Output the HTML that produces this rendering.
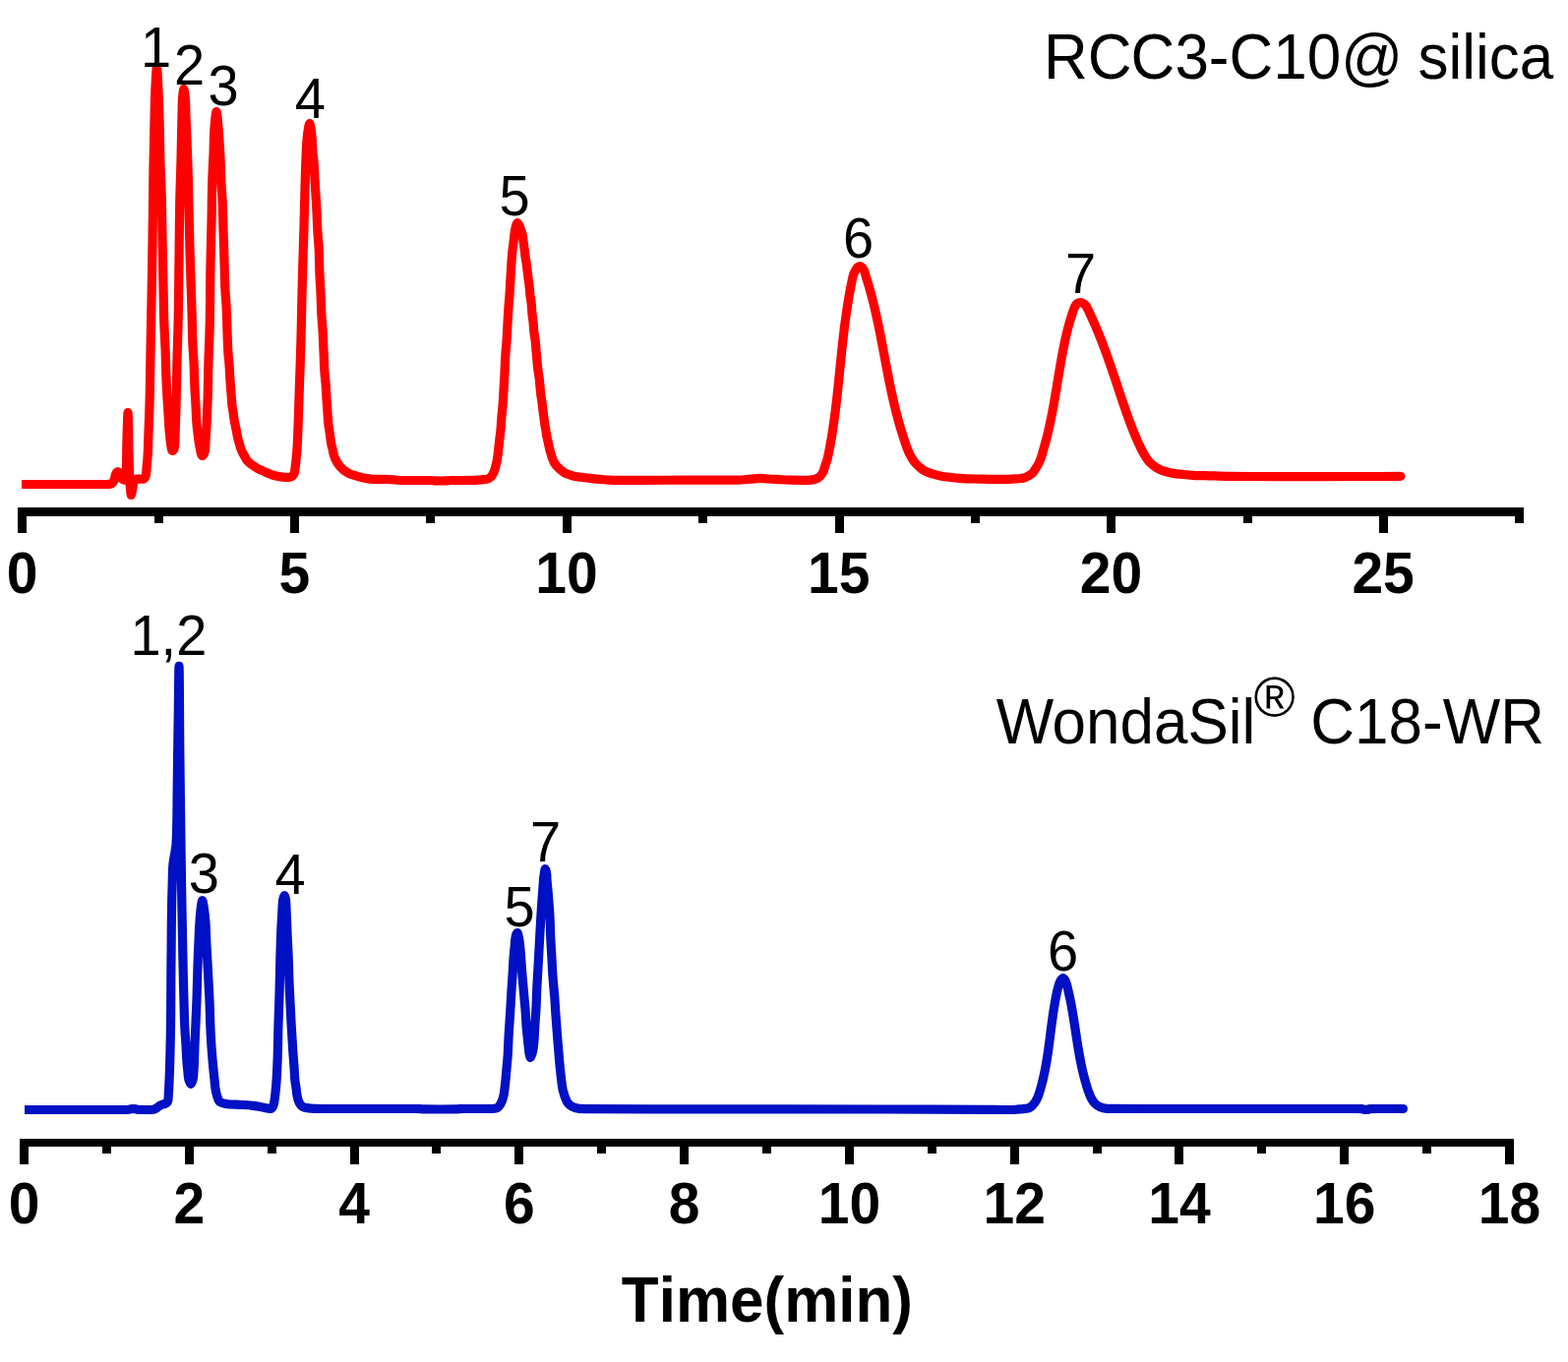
<!DOCTYPE html>
<html lang="en"><head><meta charset="utf-8"><title>Chromatograms</title>
<style>html,body{margin:0;padding:0;background:#fff;}body{width:1594px;height:1385px;overflow:hidden;}svg{display:block;}text{font-family:"Liberation Sans",Arial,Helvetica,sans-serif;fill:#000;font-kerning:none;}.c{fill:none;stroke-width:9.2;stroke-linejoin:round;stroke-linecap:butt;}</style></head><body>
<svg xmlns="http://www.w3.org/2000/svg" width="1594" height="1385" viewBox="0 0 1594 1385">
<rect width="1594" height="1385" fill="#fff"/>
<path class="c" stroke="#ff0000" d="M22 492.5C34.67 492.5 47.33 492.5 60 492.5C73.33 492.5 86.67 492.5 100 492.5C102.67 492.5 105.33 492.5 108 492.5C109 492.5 110.01 492.5 111 492.4C111.84 492.31 112.79 492.22 113.5 491.8C114.18 491.4 114.74 490.67 115.2 490C115.7 489.26 116 488.36 116.3 487.5C116.75 486.22 116.77 484.79 117.2 483.5C117.53 482.51 117.72 481.35 118.4 480.6C118.8 480.16 119.41 479.5 119.9 479.5C120.44 479.5 121.06 480.3 121.5 480.8C122.35 481.77 122.44 483.29 123 484.5C123.46 485.49 123.69 486.77 124.5 487.4C125.03 487.81 125.84 488.2 126.5 488.2C127.01 488.2 127.89 487.79 128 487.5C128.5 486.18 128.46 482.5 128.5 480C128.67 468.69 128.7 457.33 129 446C129.18 439 129.35 431.99 129.7 425C129.79 423.17 129.9 419.5 130 419.5C130.1 419.5 130.21 423.17 130.3 425C130.91 437.32 130.65 449.67 131 462C131.22 469.67 131.4 477.34 131.8 485C132.02 489.34 132.08 493.69 132.6 498C132.82 499.84 133.04 503.5 133.4 503.5C133.63 503.5 133.96 501.17 134.2 500C134.47 498.67 134.66 497.33 134.9 496C135.2 494.33 135.3 492.61 135.8 491C136.12 489.98 136.24 488.64 137 488C137.51 487.57 138.32 487.2 139 487.2C140.27 487.2 141.67 487.2 143 487.2C143.83 487.2 144.77 487.2 145.5 487.2C146.51 487.2 147.46 485.62 147.9 484.7C148.98 482.42 148.77 479.04 149 476.2C149.28 472.67 149.72 469.14 150 465.6C150.66 457.09 150.68 448.53 151 440C151.35 430.63 151.72 421.27 152 411.9C152.53 394.21 152.67 376.5 153 358.8C153.33 341.2 153.68 323.6 154 306C154.35 286.63 154.7 267.27 155 247.9C155.4 221.93 155.54 195.96 156 170C156.28 154 156.59 138 157 122C157.29 110.7 157.37 99.38 158 88.1C158.37 81.56 158.96 68.5 159.4 68.5C159.97 68.5 160.57 85.36 161 93.8C161.46 102.86 161.72 111.93 162 121C162.48 136.4 162.48 151.81 163 167.2C163.28 175.47 163.72 183.73 164 192C164.56 208.69 164.66 225.4 165 242.1C165.33 258.03 165.65 273.97 166 289.9C166.32 304.4 166.4 318.91 167 333.4C167.28 340.14 167.71 346.86 168 353.6C168.45 364.26 168.53 374.94 169 385.6C169.28 392.07 169.62 398.54 170 405C170.3 410.1 170.68 415.2 171 420.3C171.35 425.77 171.53 431.24 172 436.7C172.3 440.14 172.63 443.58 173.05 447C173.36 449.54 173.52 452.11 174.1 454.6C174.4 455.91 174.44 458.5 175.2 458.5C175.64 458.5 176.71 457.47 176.9 456.9C177.99 453.69 177.88 448.17 178 443.8C178.27 433.72 178.71 423.6 179 413.5C179.45 397.64 179.57 381.76 180 365.9C180.29 355.07 180.72 344.23 181 333.4C181.58 310.61 181.67 287.8 182 265C182.34 241.6 182.37 218.19 183 194.8C183.28 184.5 183.71 174.2 184 163.9C184.43 148.54 184.53 133.16 185 117.8C185.23 110.2 185.03 102.51 186 95C186.19 93.5 186.53 90.5 186.8 90.5C187.19 90.5 187.71 94.83 188 97C188.96 104.31 188.72 111.8 189 119.2C189.29 126.87 189.69 134.53 190 142.2C190.37 151.47 190.71 160.73 191 170C191.43 183.63 191.67 197.27 192 210.9C192.34 225.23 192.6 239.57 193 253.9C193.3 264.57 193.65 275.23 194 285.9C194.32 295.77 194.69 305.63 195 315.5C195.37 327.6 195.37 339.71 196 351.8C196.28 357.14 196.72 362.46 197 367.8C197.49 377.03 197.53 386.27 198 395.5C198.28 401.1 198.68 406.7 199 412.3C199.35 418.53 199.45 424.78 200 431C200.28 434.17 200.62 437.34 201 440.5C201.32 443.17 201.64 445.84 202.05 448.5C202.36 450.54 202.65 452.59 203.1 454.6C203.77 457.62 204.39 463.5 205.75 463.5C206.38 463.5 207.56 461.09 207.95 459.8C208.98 456.41 208.79 452.27 209 448.5C209.3 443.01 209.71 437.5 210 432C210.41 424.27 210.72 416.54 211 408.8C211.52 394.51 211.55 380.2 212 365.9C212.29 356.8 212.72 347.7 213 338.6C213.71 315.08 213.52 291.53 214 268C214.28 254.27 214.69 240.53 215 226.8C215.37 210.2 215.32 193.59 216 177C216.28 170.26 216.7 163.53 217 156.8C217.4 147.87 217.21 138.9 218 130C218.49 124.49 219.33 113.5 220 113.5C220.67 113.5 221.48 124.49 222 130C222.43 134.52 222.7 139.06 223 143.6C223.39 149.4 223.71 155.2 224 161C224.44 169.99 224.47 179.01 225 188C225.28 192.7 225.72 197.4 226 202.1C226.62 212.69 226.66 223.3 227 233.9C227.33 244.27 227.67 254.63 228 265C228.33 275.3 228.41 285.61 229 295.9C229.28 300.74 229.72 305.56 230 310.4C230.51 319.16 230.64 327.93 231 336.7C231.31 344.4 231.41 352.12 232 359.8C232.28 363.4 232.71 367 233 370.6C233.45 376.22 233.61 381.87 234 387.5C234.33 392.14 234.72 396.77 235.1 401.4C235.44 405.6 235.52 409.84 236.15 414C236.4 415.67 236.78 417.33 237.05 419C237.48 421.65 237.64 424.35 238.1 427C238.39 428.67 238.77 430.33 239.1 432C239.43 433.67 239.78 435.33 240.1 437C240.42 438.66 240.67 440.34 241 442C241.33 443.67 241.67 445.35 242.1 447C242.54 448.68 243.12 450.33 243.6 452C243.98 453.33 244.25 454.7 244.7 456C245.43 458.15 246.49 460.19 247.55 462.2C248.09 463.21 248.68 464.2 249.25 465.2C249.81 466.17 250.3 467.2 250.95 468.1C252.36 470.03 254.47 471.46 256.4 472.9C258.05 474.13 259.8 475.26 261.6 476.25C263.46 477.27 265.47 478.01 267.4 478.9C269.1 479.69 270.77 480.57 272.5 481.3C274.43 482.12 276.38 482.94 278.4 483.5C280.23 484.01 282.12 484.31 284 484.6C286.02 484.92 288.06 485.18 290.1 485.3C291.4 485.38 292.74 485.4 294 485.4C294.85 485.4 295.77 485.03 296.5 484.6C297.5 484.01 298.32 482.91 298.9 481.9C299.87 480.23 299.69 477.97 300 476C300.44 473.18 300.7 470.34 301 467.5C301.39 463.81 301.72 460.1 302 456.4C302.54 449.21 302.71 442 303 434.8C303.41 424.87 303.67 414.93 304 405C304.33 395.1 304.67 385.2 305 375.3C305.34 365.17 305.71 355.03 306 344.9C306.44 329.6 306.62 314.3 307 299C307.3 287 307.65 275 308 263C308.32 252.3 308.69 241.6 309 230.9C309.37 217.9 309.62 204.9 310 191.9C310.3 181.7 310.53 171.49 311 161.3C311.28 155.16 311.46 149.02 312 142.9C312.28 139.76 312.47 136.6 313 133.5C313.46 130.81 314.18 125.5 314.8 125.5C315.19 125.5 315.67 128.82 316 130.5C316.5 133.04 316.72 135.63 317 138.2C317.61 143.84 317.47 149.55 318 155.2C318.28 158.17 318.72 161.13 319 164.1C319.58 170.35 319.62 176.64 320 182.9C320.3 187.94 320.68 192.97 321 198C321.35 203.63 321.7 209.26 322 214.9C322.39 222.33 322.51 229.78 323 237.2C323.28 241.5 323.72 245.8 324 250.1C324.65 260.22 324.51 270.37 325 280.5C325.28 286.3 325.71 292.1 326 297.9C326.41 306.03 326.48 314.18 327 322.3C327.28 326.7 327.72 331.1 328 335.5C328.46 342.69 328.67 349.9 329 357.1C329.34 364.43 329.42 371.78 330 379.1C330.28 382.57 330.71 386.03 331 389.5C331.45 394.96 331.64 400.44 332 405.9C332.31 410.6 332.65 415.3 333 420C333.32 424.25 333.43 428.53 334 432.75C334.28 434.81 334.69 436.85 335 438.9C335.37 441.39 335.64 443.9 336 446.4C336.3 448.44 336.49 450.5 336.95 452.5C337.24 453.78 337.7 455.02 338 456.3C338.37 457.85 338.51 459.46 338.9 461C339.18 462.11 339.51 463.22 339.9 464.3C340.23 465.21 340.6 466.12 341 467C342.18 469.56 343.69 472.07 345.5 474.2C347.85 476.96 350.92 479.37 354.1 481.1C356.98 482.66 360.32 483.46 363.5 484.4C365.51 485 367.55 485.57 369.6 486C372.1 486.52 374.66 486.86 377.2 487.1C380.12 487.37 383.07 487.37 386 487.4C389.33 487.44 392.67 487.41 396 487.5C398 487.56 400 487.83 402 488C404 488.17 406 488.5 408 488.5C413.65 488.5 419.33 488.5 425 488.5C429.33 488.5 433.68 488.5 438 488.5C439.67 488.5 441.33 488.82 443 488.9C444.83 488.99 446.67 489 448.5 489C450.33 489 452.17 488.99 454 488.9C455.67 488.82 457.33 488.5 459 488.5C462.66 488.5 466.33 488.5 470 488.5C474 488.5 478.01 488.5 482 488.4C483.67 488.36 485.33 488.15 487 488C488.33 487.88 489.67 487.76 491 487.6C492.67 487.4 494.47 487.51 496 486.9C497.1 486.46 498.24 485.8 499.1 485C500.29 483.89 500.98 482.2 501.7 480.7C502.64 478.75 503.21 476.6 503.8 474.5C504.22 473.02 504.58 471.51 504.9 470C505.36 467.85 505.69 465.67 506 463.5C506.44 460.42 506.66 457.3 507 454.2C507.33 451.23 507.65 448.27 508 445.3C508.32 442.53 508.72 439.77 509 437C509.47 432.41 509.6 427.79 510 423.2C510.3 419.8 510.71 416.4 511 413C511.45 407.68 511.68 402.33 512 397C512.36 390.97 512.68 384.93 513 378.9C513.35 372.33 513.54 365.76 514 359.2C514.28 355.16 514.71 351.14 515 347.1C515.43 341.07 515.65 335.03 516 329C516.32 323.37 516.59 317.73 517 312.1C517.29 308.03 517.71 303.97 518 299.9C518.43 293.94 518.65 287.97 519 282C519.32 276.67 519.6 271.33 520 266C520.3 262.06 520.55 258.12 521 254.2C521.29 251.69 521.69 249.2 522 246.7C522.37 243.74 522.56 240.75 523 237.8C523.29 235.89 523.58 233.98 524 232.1C524.29 230.79 524.43 229.4 525 228.2C525.28 227.61 525.66 226.5 526 226.5C526.63 226.5 527.44 228.45 528 229.5C528.97 231.32 529.31 233.44 530 235.4C530.33 236.34 530.72 237.25 531 238.2C531.67 240.48 531.66 242.93 532 245.3C532.33 247.63 532.69 249.96 533 252.3C533.37 255.13 533.59 257.98 534 260.8C534.29 262.84 534.7 264.86 535 266.9C535.39 269.56 535.67 272.23 536 274.9C536.33 277.57 536.64 280.24 537 282.9C537.32 285.27 537.71 287.63 538 290C538.44 293.59 538.51 297.22 539 300.8C539.28 302.84 539.72 304.86 540 306.9C540.57 311.1 540.53 315.38 541 319.6C541.28 322.14 541.71 324.66 542 327.2C542.44 331.09 542.48 335.02 543 338.9C543.28 340.97 543.72 343.03 544 345.1C544.5 348.81 544.66 352.57 545 356.3C545.33 359.93 545.65 363.57 546 367.2C546.32 370.48 546.55 373.78 547 377.05C547.29 379.11 547.72 381.14 548 383.2C548.46 386.52 548.66 389.87 549 393.2C549.33 396.43 549.55 399.68 550 402.9C550.29 404.94 550.71 406.96 551 409C551.41 411.86 551.64 414.74 552 417.6C552.3 419.97 552.63 422.33 552.95 424.7C553.3 427.33 553.57 429.98 554 432.6C554.28 434.31 554.66 436 554.95 437.7C555.32 439.86 555.53 442.05 555.95 444.2C556.25 445.74 556.66 447.26 557 448.8C557.31 450.2 557.59 451.6 557.9 453C558.24 454.5 558.55 456.01 558.95 457.5C559.27 458.68 559.66 459.83 560 461C560.39 462.33 560.7 463.69 561.15 465C561.85 467.05 562.55 469.17 563.7 471C564.37 472.06 565.17 473.05 566 474C566.75 474.86 567.57 475.67 568.4 476.45C569.23 477.23 570.1 478 571 478.7C571.93 479.42 572.88 480.13 573.9 480.7C574.88 481.25 575.95 481.67 577 482.1C578.18 482.58 579.38 483.02 580.6 483.4C582.04 483.85 583.52 484.2 585 484.5C586.85 484.87 588.73 485.05 590.6 485.3C593.73 485.72 596.86 486.07 600 486.4C603.26 486.74 606.53 487.02 609.8 487.3C613.2 487.59 616.6 487.93 620 488.1C623.33 488.26 626.67 488.3 630 488.3C636.67 488.3 643.33 488.3 650 488.3C666.67 488.3 683.33 488.2 700 488.2C713.33 488.2 726.67 488.2 740 488.2C743.67 488.2 747.34 488.2 751 488.1C753.67 488.03 756.33 487.7 759 487.5C761.67 487.3 764.33 487.09 767 486.9C769.33 486.73 771.67 486.4 774 486.4C776.33 486.4 778.66 486.83 781 487C784.66 487.27 788.33 487.41 792 487.6C796.33 487.82 800.66 488.09 805 488.2C808.33 488.29 811.67 488.3 815 488.3C816.67 488.3 818.34 488.3 820 488.3C822.59 488.3 825.28 488.23 827.75 487.5C829.15 487.08 830.63 486.58 831.85 485.8C833.72 484.6 835.28 482.63 836.4 480.7C837.43 478.93 837.87 476.79 838.5 474.8C838.82 473.81 839.07 472.79 839.4 471.8C839.74 470.79 840.19 469.82 840.52 468.8C840.89 467.62 841.16 466.4 841.45 465.2C841.69 464.2 841.91 463.2 842.13 462.2C842.47 460.64 842.76 459.07 843.06 457.5C843.44 455.5 843.81 453.5 844.17 451.5C844.46 449.92 844.73 448.33 845 446.75C845.37 444.57 845.73 442.39 846.07 440.2C846.48 437.6 846.87 435 847.25 432.4C847.65 429.64 848.03 426.87 848.4 424.1C848.7 421.9 848.98 419.7 849.25 417.5C849.57 414.93 849.88 412.37 850.18 409.8C850.47 407.37 850.74 404.93 851.01 402.5C851.19 400.9 851.36 399.3 851.53 397.7C851.88 394.47 852.22 391.23 852.55 388C852.89 384.73 853.21 381.47 853.54 378.2C853.87 374.97 854.19 371.73 854.52 368.5C854.85 365.23 855.18 361.97 855.52 358.7C855.86 355.47 856.2 352.23 856.56 349C856.92 345.73 857.29 342.46 857.67 339.2C858.06 335.96 858.45 332.73 858.87 329.5C859.29 326.25 859.73 323 860.19 319.75C860.65 316.5 861.14 313.25 861.65 310C861.97 307.97 862.3 305.93 862.65 303.9C862.9 302.43 863.15 300.97 863.41 299.5C863.67 298.03 863.94 296.57 864.22 295.1C864.49 293.65 864.77 292.2 865.05 290.75C865.31 289.43 865.58 288.12 865.85 286.8C866.12 285.47 866.35 284.12 866.67 282.8C866.97 281.52 867.26 280.23 867.71 279C868.21 277.62 868.87 276.27 869.6 275C870.2 273.96 870.73 272.79 871.6 272C872.3 271.36 873.27 270.5 874.1 270.5C874.93 270.5 875.92 271.35 876.6 272C877.42 272.78 877.91 273.95 878.4 275C878.99 276.26 879.28 277.66 879.69 279C880.07 280.26 880.39 281.54 880.77 282.8C881.17 284.14 881.63 285.46 882.04 286.8C882.44 288.11 882.83 289.43 883.21 290.75C883.63 292.2 884.05 293.65 884.45 295.1C884.86 296.56 885.26 298.03 885.65 299.5C886.05 300.96 886.43 302.43 886.81 303.9C887.33 305.93 887.83 307.96 888.33 310C889.12 313.24 889.87 316.49 890.6 319.75C891.33 322.99 892.03 326.25 892.72 329.5C893.39 332.73 894.05 335.96 894.69 339.2C895.34 342.46 895.97 345.73 896.6 349C897.22 352.23 897.82 355.47 898.43 358.7C899.05 361.97 899.66 365.23 900.27 368.5C900.89 371.73 901.5 374.97 902.12 378.2C902.75 381.47 903.39 384.74 904.05 388C904.7 391.24 905.37 394.47 906.06 397.7C906.94 401.81 907.84 405.91 908.8 410C909.57 413.26 910.35 416.51 911.18 419.75C912.01 423.01 912.88 426.26 913.78 429.5C914.69 432.74 915.64 435.98 916.63 439.2C917.64 442.48 918.7 445.75 919.8 449C920.54 451.17 921.23 453.36 922.06 455.5C922.92 457.7 923.8 459.9 924.87 462C925.53 463.29 926.25 464.56 927 465.8C927.67 466.92 928.33 468.05 929.1 469.1C930.33 470.78 931.79 472.31 933.3 473.75C934.48 474.88 935.72 476 937.05 476.95C938.72 478.14 940.58 479.11 942.45 479.95C944.5 480.87 946.69 481.49 948.85 482.15C951.61 482.99 954.42 483.75 957.25 484.3C960.46 484.92 963.74 485.16 967 485.5C969.99 485.82 973 486.08 976 486.3C980.66 486.64 985.33 486.85 990 487C993.33 487.11 996.67 487.14 1000 487.2C1005 487.29 1010 487.45 1015 487.45C1018.33 487.45 1021.67 487.45 1025 487.4C1027.67 487.36 1030.34 487.14 1033 486.9C1035.81 486.65 1038.78 486.84 1041.4 485.9C1042.78 485.4 1044.12 484.65 1045.4 483.9C1046.9 483.02 1048.48 482.11 1049.7 480.9C1050.96 479.66 1051.82 478 1052.8 476.5C1053.87 474.87 1054.94 473.23 1055.82 471.5C1056.89 469.42 1057.7 467.21 1058.47 465C1059.21 462.87 1059.75 460.67 1060.37 458.5C1061.31 455.24 1062.26 451.98 1063.13 448.7C1063.98 445.48 1064.78 442.24 1065.55 439C1066.32 435.74 1067.04 432.47 1067.73 429.2C1068.41 425.97 1069.06 422.74 1069.68 419.5C1070.31 416.26 1070.9 413 1071.48 409.75C1072.06 406.5 1072.61 403.25 1073.16 400C1073.7 396.77 1074.23 393.53 1074.77 390.3C1075.32 386.93 1075.86 383.57 1076.43 380.2C1076.98 376.87 1077.53 373.53 1078.11 370.2C1078.7 366.85 1079.29 363.49 1079.92 360.15C1080.55 356.79 1081.19 353.44 1081.89 350.1C1082.59 346.73 1083.32 343.35 1084.12 340C1084.92 336.65 1085.76 333.31 1086.68 330C1087.62 326.65 1088.63 323.31 1089.72 320C1090.38 317.99 1090.95 315.94 1091.78 314C1092.33 312.71 1092.73 311.26 1093.61 310.2C1094.26 309.42 1095.09 308.66 1096 308.2C1096.67 307.86 1097.47 307.5 1098.2 307.5C1099 307.5 1099.85 307.94 1100.6 308.3C1101.68 308.81 1102.74 309.54 1103.55 310.4C1104.49 311.39 1105 312.78 1105.66 314C1106.7 315.94 1107.55 317.99 1108.48 320C1109.25 321.66 1110.01 323.33 1110.76 325C1111.51 326.66 1112.25 328.33 1112.97 330C1113.69 331.66 1114.4 333.33 1115.1 335C1115.8 336.66 1116.49 338.33 1117.16 340C1118.52 343.35 1119.84 346.72 1121.13 350.1C1122.41 353.44 1123.65 356.79 1124.87 360.15C1126.08 363.49 1127.26 366.84 1128.43 370.2C1129.58 373.53 1130.72 376.86 1131.84 380.2C1132.98 383.56 1134.09 386.93 1135.21 390.3C1136.28 393.53 1137.35 396.77 1138.42 400C1139.51 403.25 1140.59 406.5 1141.69 409.75C1142.8 413 1143.91 416.26 1145.06 419.5C1146.2 422.74 1147.36 425.98 1148.56 429.2C1149.79 432.48 1151.02 435.76 1152.34 439C1153.65 442.26 1155.01 445.5 1156.46 448.7C1157.45 450.88 1158.46 453.06 1159.53 455.2C1160.62 457.39 1161.71 459.59 1162.93 461.7C1163.74 463.09 1164.57 464.47 1165.47 465.8C1166.31 467.05 1167.15 468.32 1168.15 469.45C1169.23 470.67 1170.48 471.76 1171.75 472.8C1172.99 473.81 1174.29 474.76 1175.65 475.6C1177.14 476.52 1178.73 477.33 1180.35 478C1182.39 478.85 1184.56 479.38 1186.7 479.95C1188.76 480.5 1190.85 480.97 1192.95 481.35C1195.94 481.88 1198.98 482.09 1202 482.4C1205.33 482.74 1208.66 483.1 1212 483.3C1216.32 483.56 1220.67 483.49 1225 483.6C1233.33 483.82 1241.67 484.3 1250 484.4C1266.66 484.6 1283.33 484.6 1300 484.6C1326.67 484.6 1353.33 484.53 1380 484.5C1394.67 484.48 1409.33 484.47 1424 484.45"/>
<circle cx="1424.0" cy="484.4" r="4.4" fill="#ff0000"/>
<path class="c" stroke="#0010c4" d="M25 1128.5C43.33 1128.5 61.67 1128.5 80 1128.5C95.33 1128.5 110.69 1128.5 126 1128.5C127.67 1128.5 129.35 1128.41 131 1128.2C132 1128.07 132.99 1127.7 134 1127.7C134.99 1127.7 136.01 1127.7 137 1127.7C138.01 1127.7 138.99 1128.2 140 1128.3C141.97 1128.5 144 1128.5 146 1128.5C148 1128.5 150 1128.5 152 1128.5C153.33 1128.5 154.74 1128.5 156 1128.3C157.24 1128.1 158.39 1127.19 159.5 1126.5C160.55 1125.85 161.43 1124.91 162.5 1124.3C163.44 1123.77 164.47 1123.36 165.5 1123C166.32 1122.72 167.24 1122.67 168 1122.3C168.86 1121.88 169.92 1121.2 170.3 1120.5C171.28 1118.68 171.12 1115.51 171.3 1113C171.72 1107.06 171.94 1101.07 172.2 1095.1C172.73 1082.74 172.97 1070.37 173.25 1058C173.85 1031.01 173.68 1004 174 977C174.3 951.9 174.2 926.78 175.1 901.7C175.41 893.1 175.14 884.41 176.3 875.9C176.66 873.26 177.27 870.64 177.7 868C178.18 865.01 178.8 862 179 859C180.09 842.41 179.94 825.53 180.1 808.8C180.36 782.67 180.82 756.53 181.2 730.4C181.46 712.73 181.77 677.4 182 677.4C182.37 677.4 182.49 734.67 182.8 763.3C183.11 791.93 183.46 820.57 183.85 849.2C184.17 873.33 184.48 897.47 184.9 921.6C185.23 940.4 185.58 959.2 186 978C186.29 991.13 186.57 1004.27 186.95 1017.4C187.22 1026.57 187.38 1035.74 187.85 1044.9C188.18 1051.3 188.71 1057.7 189.1 1064.1C189.44 1069.73 189.55 1075.38 190.05 1081C190.3 1083.84 190.64 1086.67 190.95 1089.5C191.26 1092.3 191.03 1095.26 191.9 1097.9C192.41 1099.45 193.31 1102.4 194 1102.4C194.69 1102.4 195.57 1099.45 196.05 1097.9C196.92 1095.1 196.71 1091.97 196.95 1089C197.59 1081.06 197.56 1073.07 197.9 1065.1C198.22 1057.57 198.57 1050.03 198.9 1042.5C199.27 1033.97 199.68 1025.44 200 1016.9C200.47 1004.24 200.63 991.56 201.1 978.9C201.38 971.37 201.7 963.83 202.05 956.3C202.34 949.9 202.52 943.49 203 937.1C203.29 933.2 203.54 929.28 204.05 925.4C204.48 922.09 205.13 915.5 205.7 915.5C206.37 915.5 207.25 923.28 207.8 927.2C208.26 930.48 208.56 933.8 208.85 937.1C209.49 944.44 209.47 951.84 209.85 959.2C210.15 965.13 210.52 971.07 210.85 977C211.22 983.73 211.6 990.47 211.95 997.2C212.3 1003.77 212.66 1010.33 212.95 1016.9C213.36 1026.23 213.46 1035.57 213.9 1044.9C214.17 1050.7 214.46 1056.5 214.85 1062.3C215.14 1066.67 215.49 1071.04 215.85 1075.4C216.18 1079.3 216.52 1083.2 216.9 1087.1C217.2 1090.1 217.54 1093.1 217.85 1096.1C218.21 1099.53 218.34 1103 218.9 1106.4C219.32 1108.92 219.7 1111.49 220.5 1113.9C221.26 1116.18 221.8 1119.09 223.5 1120.5C224.95 1121.71 227.4 1122 229.4 1122.4C233.95 1123.31 238.8 1123.07 243.5 1123.35C248.2 1123.63 252.93 1123.79 257.6 1124.4C260.75 1124.81 263.87 1125.42 267 1126C268.9 1126.35 270.78 1126.89 272.7 1127.1C273.63 1127.2 274.71 1127.3 275.5 1127.3C276.51 1127.3 277.23 1125.53 277.8 1124.5C278.65 1122.95 278.67 1120.98 279 1119.2C279.49 1116.56 279.71 1113.87 280 1111.2C280.47 1106.94 280.8 1102.67 281.1 1098.4C281.53 1092.24 281.75 1086.07 282 1079.9C282.54 1066.84 282.59 1053.76 283 1040.7C283.3 1031.18 283.71 1021.67 284 1012.15C284.43 997.87 284.55 983.58 285 969.3C285.29 960.22 285.56 951.13 286 942.05C286.29 936.1 286.58 930.14 287 924.2C287.25 920.63 287.03 916.88 288 913.5C288.29 912.48 288.83 910.5 289.2 910.5C289.56 910.5 289.97 912.49 290.2 913.5C290.98 916.93 290.81 920.63 291 924.2C291.44 932.49 291.62 940.8 292 949.1C292.31 955.83 292.71 962.56 293 969.3C293.43 979.2 293.58 989.1 294 999C294.29 1005.97 294.66 1012.93 295 1019.9C295.32 1026.47 295.63 1033.04 296 1039.6C296.32 1045.37 296.69 1051.13 297.05 1056.9C297.36 1061.93 297.64 1066.97 298 1072C298.3 1076.25 298.69 1080.5 299 1084.75C299.36 1089.73 299.35 1094.75 300 1099.7C300.28 1101.81 300.69 1103.9 301 1106C301.38 1108.59 301.51 1111.23 302 1113.8C302.28 1115.28 302.52 1116.78 303 1118.2C303.65 1120.13 304.37 1122.26 305.75 1123.7C306.64 1124.63 307.79 1125.52 309 1126C309.93 1126.37 311 1126.43 312 1126.6C314.64 1127.05 317.33 1127.32 320 1127.4C323.32 1127.5 326.67 1127.5 330 1127.5C353.33 1127.5 376.67 1127.5 400 1127.5C408 1127.5 416.01 1127.5 424 1127.5C426 1127.5 428 1127.86 430 1127.9C435.66 1128 441.33 1128 447 1128C452.67 1128 458.34 1128 464 1127.9C466 1127.86 468 1127.5 470 1127.5C473.33 1127.5 476.67 1127.5 480 1127.5C485 1127.5 490 1127.5 495 1127.5C498.07 1127.5 501.53 1127.5 504.2 1127C505.4 1126.78 506.62 1125.57 507.55 1124.6C508.88 1123.21 509.6 1121.21 510.35 1119.4C511.07 1117.67 511.57 1115.83 512 1114C512.55 1111.65 512.74 1109.2 513.05 1106.8C513.47 1103.54 513.78 1100.27 514.1 1097C514.47 1093.17 514.76 1089.33 515.1 1085.5C515.43 1081.8 515.82 1078.1 516.1 1074.4C516.63 1067.35 516.69 1060.26 517.1 1053.2C517.41 1047.96 517.81 1042.73 518.15 1037.5C518.49 1032.23 518.83 1026.97 519.15 1021.7C519.48 1016.13 519.74 1010.56 520.1 1005C520.4 1000.3 520.79 995.6 521.1 990.9C521.48 985.1 521.63 979.29 522.1 973.5C522.41 969.73 522.81 965.96 523.2 962.2C523.52 959.07 523.48 955.86 524.2 952.8C524.48 951.62 524.47 950.23 525.2 949.3C525.43 949.01 525.78 948.5 526 948.5C526.46 948.5 526.57 949.96 526.8 950.7C527.29 952.29 527.51 953.96 527.8 955.6C528.34 958.71 528.59 961.86 528.9 965C529.34 969.39 529.57 973.8 529.9 978.2C530.23 982.6 530.54 987 530.9 991.4C531.27 995.94 531.71 1000.47 532.1 1005C532.44 1008.9 532.75 1012.8 533.1 1016.7C533.42 1020.23 533.81 1023.76 534.1 1027.3C534.58 1033.19 534.67 1039.11 535.2 1045C535.49 1048.2 535.87 1051.4 536.2 1054.6C536.55 1057.97 536.85 1061.34 537.25 1064.7C537.54 1067.14 537.62 1069.62 538.2 1072C538.47 1073.13 538.75 1075.35 539.2 1075.35C539.54 1075.35 540.06 1073.81 540.4 1073C541.05 1071.48 541.39 1069.82 541.75 1068.2C542.34 1065.55 542.51 1062.81 542.8 1060.1C543.4 1054.43 543.43 1048.7 543.8 1043C544.12 1037.93 544.55 1032.87 544.85 1027.8C545.34 1019.54 545.48 1011.26 545.9 1003C546.22 996.63 546.64 990.27 547 983.9C547.34 977.77 547.67 971.63 548 965.5C548.33 959.4 548.66 953.3 549 947.2C549.33 941.38 549.63 935.56 550 929.75C550.31 924.9 550.65 920.05 551 915.2C551.32 910.8 551.64 906.4 552 902C552.31 898.17 552.41 894.3 553 890.5C553.37 888.15 553.81 883.5 554.4 883.5C554.7 883.5 555.14 885.82 555.4 887C555.96 889.57 555.78 892.27 556 894.9C556.3 898.54 556.68 902.17 557 905.8C557.35 909.86 557.69 913.93 558 918C558.38 923 558.72 928 559 933C559.44 940.86 559.5 948.74 559.9 956.6C560.18 962.24 560.58 967.87 560.9 973.5C561.28 980.1 561.54 986.71 562 993.3C562.51 1000.64 563.37 1007.96 563.9 1015.3C564.29 1020.63 564.53 1025.97 564.9 1031.3C565.22 1035.94 565.6 1040.57 565.95 1045.2C566.28 1049.6 566.6 1054 566.95 1058.4C567.27 1062.33 567.62 1066.27 567.95 1070.2C568.28 1074.17 568.57 1078.14 568.95 1082.1C569.25 1085.3 569.6 1088.5 569.95 1091.7C570.27 1094.57 570.57 1097.44 570.95 1100.3C571.27 1102.67 571.48 1105.07 572 1107.4C572.31 1108.78 572.71 1110.14 573.1 1111.5C573.48 1112.84 573.82 1114.2 574.3 1115.5C575.09 1117.63 575.91 1119.89 577.3 1121.65C578.29 1122.9 579.5 1124.12 580.85 1124.95C582.02 1125.67 583.42 1126.1 584.75 1126.5C588.26 1127.55 592.11 1127.58 595.8 1127.6C630.38 1127.8 665.27 1127.8 700 1127.8C766.67 1127.81 833.33 1127.8 900 1128C933.33 1128.1 966.67 1128.24 1000 1128.4C1006.67 1128.43 1013.33 1128.5 1020 1128.5C1023.33 1128.5 1026.68 1128.5 1030 1128.5C1031.47 1128.5 1032.93 1128.23 1034.4 1128.1C1036.27 1127.93 1038.14 1127.85 1040 1127.6C1042.28 1127.29 1044.84 1127.32 1046.8 1126.3C1048.86 1125.23 1050.52 1123.09 1051.95 1121.15C1053.01 1119.72 1053.89 1118.11 1054.66 1116.5C1055.62 1114.5 1056.22 1112.32 1056.9 1110.2C1057.56 1108.12 1058.12 1106.01 1058.68 1103.9C1059.24 1101.81 1059.78 1099.71 1060.29 1097.6C1061.03 1094.48 1061.7 1091.34 1062.33 1088.2C1062.95 1085.08 1063.5 1081.94 1064.02 1078.8C1064.54 1075.67 1065.01 1072.54 1065.46 1069.4C1065.91 1066.27 1066.32 1063.14 1066.73 1060C1066.98 1058.1 1067.21 1056.2 1067.46 1054.3C1067.94 1050.47 1068.41 1046.63 1068.92 1042.8C1069.43 1038.93 1069.93 1035.06 1070.52 1031.2C1071.1 1027.34 1071.71 1023.49 1072.4 1019.65C1073.09 1015.79 1073.76 1011.91 1074.67 1008.1C1075.24 1005.72 1075.71 1003.29 1076.56 1001C1077.09 999.57 1077.52 998.03 1078.4 996.8C1079.01 995.95 1079.87 994.5 1080.6 994.5C1081.33 994.5 1082.22 995.94 1082.8 996.8C1083.62 998.01 1083.91 999.58 1084.38 1001C1085.13 1003.31 1085.56 1005.73 1086.11 1008.1C1087.01 1011.93 1087.83 1015.79 1088.6 1019.65C1089.35 1023.49 1090.02 1027.34 1090.67 1031.2C1091.33 1035.06 1091.91 1038.93 1092.51 1042.8C1093.11 1046.63 1093.67 1050.47 1094.25 1054.3C1094.55 1056.2 1094.83 1058.1 1095.13 1060C1095.63 1063.14 1096.13 1066.27 1096.68 1069.4C1097.22 1072.54 1097.79 1075.68 1098.4 1078.8C1099.03 1081.94 1099.68 1085.08 1100.4 1088.2C1101.13 1091.35 1101.91 1094.48 1102.76 1097.6C1103.34 1099.71 1103.94 1101.81 1104.58 1103.9C1105.23 1106.01 1105.85 1108.13 1106.6 1110.2C1107.38 1112.33 1108.13 1114.51 1109.2 1116.5C1110.31 1118.55 1111.54 1120.7 1113.2 1122.3C1114.7 1123.74 1116.59 1124.97 1118.5 1125.8C1120.62 1126.72 1123.07 1127.08 1125.4 1127.3C1126.92 1127.44 1128.47 1127.44 1130 1127.45C1140 1127.5 1150 1127.5 1160 1127.5C1206.67 1127.5 1253.33 1127.5 1300 1127.5C1326.67 1127.5 1353.34 1127.5 1380 1127.5C1381.5 1127.5 1383.06 1127.5 1384.5 1127.6C1385.18 1127.65 1385.82 1128.24 1386.5 1128.3C1387.63 1128.4 1388.86 1128.4 1390 1128.4C1390.85 1128.4 1391.66 1127.63 1392.5 1127.6C1394.91 1127.5 1397.5 1127.5 1400 1127.5C1408.83 1127.5 1417.67 1127.5 1426.5 1127.5"/>
<circle cx="1426.5" cy="1127.5" r="4.5" fill="#0010c4"/>
<g fill="#000" shape-rendering="crispEdges"><rect x="18" y="516" width="1531" height="9"/><rect x="18" y="516" width="9" height="26"/><rect x="157" y="516" width="9" height="16"/><rect x="295" y="516" width="9" height="26"/><rect x="433" y="516" width="9" height="16"/><rect x="572" y="516" width="9" height="26"/><rect x="710" y="516" width="9" height="16"/><rect x="849" y="516" width="9" height="26"/><rect x="987" y="516" width="9" height="16"/><rect x="1125" y="516" width="9" height="26"/><rect x="1264" y="516" width="9" height="16"/><rect x="1402" y="516" width="9" height="26"/><rect x="1540" y="516" width="9" height="16"/><rect x="20" y="1158" width="1519" height="8"/><rect x="20" y="1158" width="9" height="26"/><rect x="104" y="1158" width="9" height="15"/><rect x="188" y="1158" width="9" height="26"/><rect x="272" y="1158" width="9" height="15"/><rect x="356" y="1158" width="9" height="26"/><rect x="439" y="1158" width="9" height="15"/><rect x="523" y="1158" width="9" height="26"/><rect x="607" y="1158" width="9" height="15"/><rect x="691" y="1158" width="9" height="26"/><rect x="775" y="1158" width="9" height="15"/><rect x="859" y="1158" width="9" height="26"/><rect x="943" y="1158" width="9" height="15"/><rect x="1027" y="1158" width="9" height="26"/><rect x="1111" y="1158" width="9" height="15"/><rect x="1194" y="1158" width="9" height="26"/><rect x="1278" y="1158" width="9" height="15"/><rect x="1362" y="1158" width="9" height="26"/><rect x="1446" y="1158" width="9" height="15"/><rect x="1530" y="1158" width="9" height="26"/></g>
<text transform="translate(22.50 602.90) scale(1.0000 1.0430)" font-size="57.00" font-weight="bold" text-anchor="middle">0</text>
<text transform="translate(299.23 602.90) scale(1.0000 1.0430)" font-size="57.00" font-weight="bold" text-anchor="middle">5</text>
<text transform="translate(575.95 602.90) scale(1.0000 1.0430)" font-size="57.00" font-weight="bold" text-anchor="middle">10</text>
<text transform="translate(852.67 602.90) scale(1.0000 1.0430)" font-size="57.00" font-weight="bold" text-anchor="middle">15</text>
<text transform="translate(1129.40 602.90) scale(1.0000 1.0430)" font-size="57.00" font-weight="bold" text-anchor="middle">20</text>
<text transform="translate(1406.12 602.90) scale(1.0000 1.0430)" font-size="57.00" font-weight="bold" text-anchor="middle">25</text>
<text transform="translate(24.50 1243.80) scale(1.0000 1.0430)" font-size="57.00" font-weight="bold" text-anchor="middle">0</text>
<text transform="translate(192.28 1243.80) scale(1.0000 1.0430)" font-size="57.00" font-weight="bold" text-anchor="middle">2</text>
<text transform="translate(360.06 1243.80) scale(1.0000 1.0430)" font-size="57.00" font-weight="bold" text-anchor="middle">4</text>
<text transform="translate(527.83 1243.80) scale(1.0000 1.0430)" font-size="57.00" font-weight="bold" text-anchor="middle">6</text>
<text transform="translate(695.61 1243.80) scale(1.0000 1.0430)" font-size="57.00" font-weight="bold" text-anchor="middle">8</text>
<text transform="translate(863.39 1243.80) scale(1.0000 1.0430)" font-size="57.00" font-weight="bold" text-anchor="middle">10</text>
<text transform="translate(1031.17 1243.80) scale(1.0000 1.0430)" font-size="57.00" font-weight="bold" text-anchor="middle">12</text>
<text transform="translate(1198.95 1243.80) scale(1.0000 1.0430)" font-size="57.00" font-weight="bold" text-anchor="middle">14</text>
<text transform="translate(1366.72 1243.80) scale(1.0000 1.0430)" font-size="57.00" font-weight="bold" text-anchor="middle">16</text>
<text transform="translate(1534.50 1243.80) scale(1.0000 1.0430)" font-size="57.00" font-weight="bold" text-anchor="middle">18</text>
<text transform="translate(779.90 1343.90) scale(1.0000 1.0550)" font-size="62.00" font-weight="bold" text-anchor="middle">Time(min)</text>
<text transform="translate(1061 79.8) scale(1 1.043)" font-size="62">RC<tspan dx="-0.9">C3-C10@</tspan><tspan dx="-1.9"> silica</tspan></text>
<text transform="translate(1012.8 755.6) scale(1 1.043)" font-size="62">W<tspan dx="-1.7">ondaSil</tspan></text>
<text transform="translate(1274.5 729.2)" font-size="57.3">®</text>
<text transform="translate(1332.3 755.6) scale(1 1.043)" font-size="62">C18-WR</text>
<text transform="translate(158.60 67.80) scale(1.0000 1.0400)" font-size="56.00" font-weight="normal" text-anchor="middle">1</text>
<text transform="translate(192.70 86.00) scale(1.0000 1.0400)" font-size="56.00" font-weight="normal" text-anchor="middle">2</text>
<text transform="translate(227.10 107.30) scale(1.0000 1.0400)" font-size="56.00" font-weight="normal" text-anchor="middle">3</text>
<text transform="translate(315.30 119.90) scale(1.0000 1.0400)" font-size="56.00" font-weight="normal" text-anchor="middle">4</text>
<text transform="translate(523.20 219.10) scale(1.0000 1.0400)" font-size="56.00" font-weight="normal" text-anchor="middle">5</text>
<text transform="translate(872.70 262.40) scale(1.0000 1.0400)" font-size="56.00" font-weight="normal" text-anchor="middle">6</text>
<text transform="translate(1098.60 297.90) scale(1.0000 1.0400)" font-size="56.00" font-weight="normal" text-anchor="middle">7</text>
<text transform="translate(171.40 665.50) scale(1.0000 1.0400)" font-size="56.00" font-weight="normal" text-anchor="middle">1,2</text>
<text transform="translate(207.40 907.80) scale(1.0000 1.0400)" font-size="56.00" font-weight="normal" text-anchor="middle">3</text>
<text transform="translate(295.00 908.80) scale(1.0000 1.0400)" font-size="56.00" font-weight="normal" text-anchor="middle">4</text>
<text transform="translate(528.20 942.10) scale(1.0000 1.0400)" font-size="56.00" font-weight="normal" text-anchor="middle">5</text>
<text transform="translate(554.70 875.60) scale(1.0000 1.0400)" font-size="56.00" font-weight="normal" text-anchor="middle">7</text>
<text transform="translate(1080.70 987.00) scale(1.0000 1.0400)" font-size="56.00" font-weight="normal" text-anchor="middle">6</text>
</svg></body></html>
